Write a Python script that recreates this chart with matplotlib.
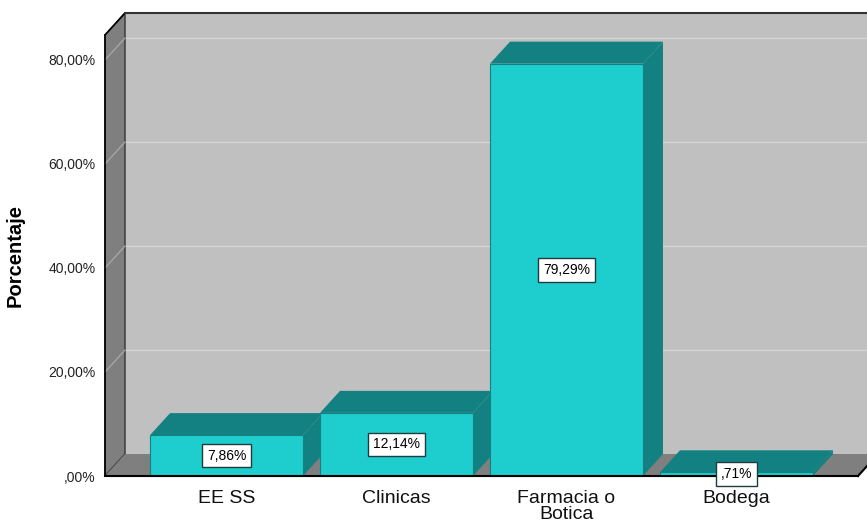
import matplotlib.pyplot as plt
from matplotlib.patches import Polygon

plt.rcParams["font.family"] = ["Liberation Sans", "DejaVu Sans"]

# Tipo de establecimiento donde se adquiere el medicamento
categorias = ["EE SS", "Clinicas", "Farmacia o\nBotica", "Bodega"]
porcentajes = [7.86, 12.14, 79.29, 0.71]
marcas_y = [0, 20, 40, 60, 80]

CIAN = "#1ecece"
TEAL = "#138181"
PARED = "#c0c0c0"
LATERAL = "#7f7f7f"
REJILLA = "#d6d6d6"


def fmt_spss(v):
    # SPSS prints values below 1 without the leading zero: ",71%"
    s = f"{v:.2f}".replace(".", ",")
    if s.startswith("0"):
        s = s[1:]
    return s + "%"


fig = plt.figure(figsize=(8.67, 5.27), dpi=100)
ax = fig.add_axes([105 / 867, 51 / 527, 753 / 867, 441 / 527])
x0, x1 = -0.715, len(categorias) - 1 + 0.715
ymax = 84.8
ax.set_xlim(x0, x1)
ax.set_ylim(0, ymax)
for s in ax.spines.values():
    s.set_visible(False)
ax.patch.set_visible(False)

# depth of the 3D effect, pixels -> data units
DX, DY = 20, 22
ddx = DX * (x1 - x0) / ax.bbox.width
ddy = DY * ymax / ax.bbox.height


def poly(pts, fc, ec="none", lw=0.0, z=1):
    ax.add_patch(Polygon(pts, closed=True, facecolor=fc, edgecolor=ec,
                         linewidth=lw, zorder=z, clip_on=False))


# walls and floor
poly([(x0 + ddx, ddy), (x1 + ddx, ddy), (x1 + ddx, ymax + ddy), (x0 + ddx, ymax + ddy)], PARED, z=1)
poly([(x0, 0), (x0, ymax), (x0 + ddx, ymax + ddy), (x0 + ddx, ddy)], LATERAL, "#333333", 1.0, z=2)
poly([(x0, 0), (x1, 0), (x1 + ddx, ddy), (x0 + ddx, ddy)], LATERAL, z=2)

for v in marcas_y[1:]:
    ax.plot([x0 + ddx, x1 + ddx], [v + ddy, v + ddy], color=REJILLA, lw=0.9, zorder=1.5, clip_on=False)
    ax.plot([x0, x0 + ddx], [v, v + ddy], color="#a8a8a8", lw=0.9, zorder=2.5, clip_on=False)

# outer edges
ax.plot([x0, x1], [0, 0], color="black", lw=1.5, zorder=10, clip_on=False)
ax.plot([x1, x1 + ddx], [0, ddy], color="black", lw=1.5, zorder=10, clip_on=False)
ax.plot([x0, x0], [0, ymax], color="black", lw=1.2, zorder=10, clip_on=False)
ax.plot([x0, x0 + ddx], [ymax, ymax + ddy], color="black", lw=1.2, zorder=10, clip_on=False)
ax.plot([x0 + ddx, x1 + ddx], [ymax + ddy, ymax + ddy], color="#333333", lw=1.5, zorder=10, clip_on=False)

# 3D bars, left to right so each one covers the side of the previous
ancho = 0.9
for i, v in enumerate(porcentajes):
    a, b = i - ancho / 2, i + ancho / 2
    z = 3 + i
    poly([(b, 0), (b + ddx, ddy), (b + ddx, v + ddy), (b, v)], TEAL, z=z)
    poly([(a, v), (b, v), (b + ddx, v + ddy), (a + ddx, v + ddy)], TEAL, z=z)
    poly([(a, 0), (b, 0), (b, v), (a, v)], CIAN, TEAL, 0.8, z=z)
    ax.text(i, v / 2, fmt_spss(v), ha="center", va="center", fontsize=10, zorder=20,
            bbox=dict(boxstyle="square,pad=0.35", fc="white", ec="#1f3b3b", lw=1.0))

ax.set_xticks(range(len(categorias)))
ax.set_xticklabels(categorias, fontsize=14, linespacing=0.95, color="#111111")
ax.set_yticks(marcas_y)
ax.set_yticklabels([fmt_spss(v) for v in marcas_y], fontsize=10, color="#222222")
ax.tick_params(axis="x", length=0, pad=10)
ax.tick_params(axis="y", length=0, pad=7)
ax.set_ylabel("Porcentaje", fontsize=14.5, fontweight="bold")
ax.yaxis.set_label_coords(-80 / 753, 0.5)

fig.savefig("out.png", dpi=100)
